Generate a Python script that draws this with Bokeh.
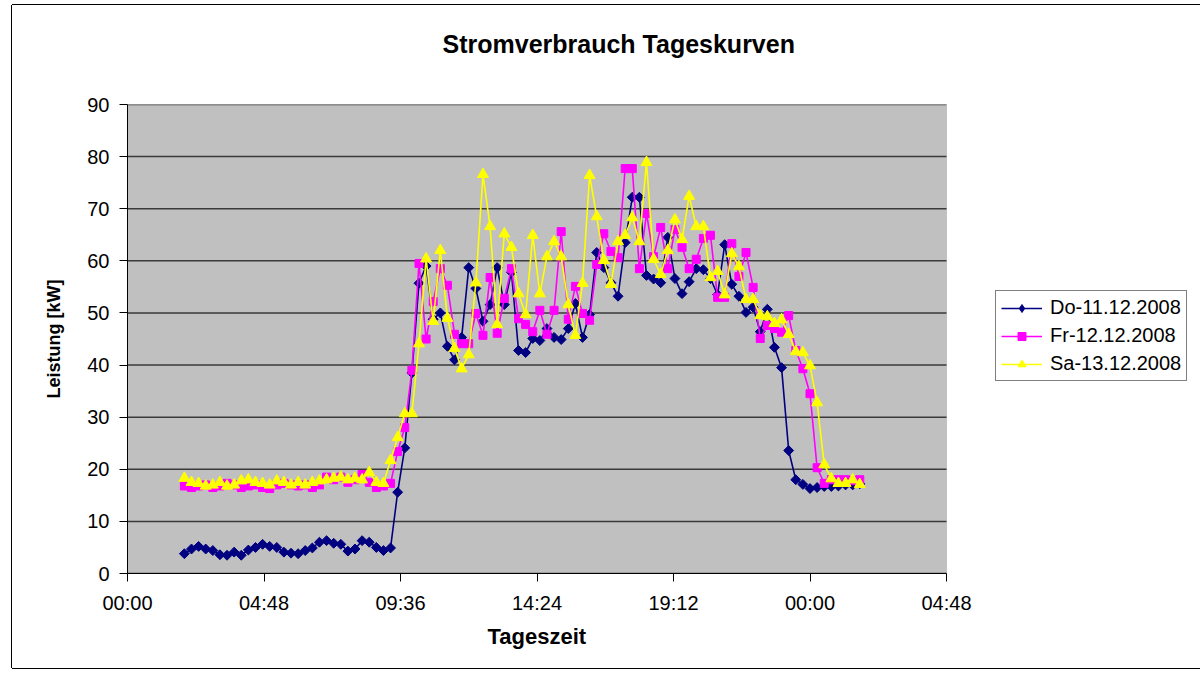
from bokeh.plotting import figure
from bokeh.models import Range1d, FixedTicker, Legend, LegendItem, Title, BoxAnnotation
from bokeh.embed import file_html
from bokeh.resources import INLINE

# sampling grid: quarter-hour readings starting 02:00 (minutes since 00:00)
start_min = 120
step_min = 15

do_vals = [3.8, 4.7, 5.2, 4.7, 4.4, 3.6, 3.5, 4.1, 3.5, 4.5, 5.0, 5.6, 5.2, 5.0, 4.1,
           3.9, 3.8, 4.4, 4.9, 6.0, 6.3, 5.8, 5.6, 4.3, 4.7, 6.3, 6.0, 5.0, 4.4, 4.9,
           15.6, 24.1, 38.5, 55.7, 59.0, 48.8, 50.0, 43.6, 41.0, 45.3, 58.7, 54.7,
           48.4, 51.6, 58.7, 51.6, 57.8, 42.8, 42.4, 45.1, 44.7, 47.0, 45.3, 44.9,
           47.0, 51.8, 45.3, 49.7, 61.6, 58.7, 55.8, 53.2, 63.5, 72.2, 72.2, 57.2, 56.5, 55.8,
           64.5, 56.6, 53.7, 56.0, 58.5, 58.3, 56.6, 53.5, 63.1, 55.5, 53.2, 50.1, 51.1,
           46.4, 50.7, 43.4, 39.5, 23.6, 18.0, 17.1, 16.3, 16.5, 16.7, 16.7, 16.8, 17.0,
           17.0, 17.2]

fr_vals = [16.8, 16.5, 16.8, 17.0, 16.5, 16.8, 17.3, 17.0, 16.5, 16.8, 17.0, 16.5, 16.3,
           17.0, 17.3, 17.0, 16.8, 17.0, 16.5, 17.0, 18.5, 18.0, 18.5, 17.5, 18.0, 19.0,
           17.5, 16.5, 16.8, 17.3,
           23.4, 28.0, 39.0, 59.5, 45.0, 52.2, 58.5, 55.3, 45.9, 44.1, 44.1, 49.9,
           45.7, 56.8, 46.1, 52.8, 58.5, 48.9, 47.8, 46.4, 50.5, 45.9, 50.5, 65.6, 48.8,
           55.1, 49.9, 48.6, 59.3, 65.2, 61.8, 60.6, 77.7, 77.7, 58.5, 69.1, 60.8, 66.4,
           58.5, 66.0, 62.6, 58.5, 60.3, 64.3, 64.9, 53.0, 53.0, 63.3, 57.0, 61.6, 54.9,
           45.1, 47.6, 47.0, 46.3, 49.5, 42.8, 39.3, 34.5, 20.3, 17.3, 18.0, 18.0, 18.0,
           17.8, 18.0]

sa_vals = [18.3, 17.5, 17.3, 16.8, 17.0, 17.5, 16.8, 17.0, 17.8, 18.0, 17.5, 17.3, 17.0,
           17.8, 17.5, 17.0, 17.5, 17.0, 17.5, 17.8, 18.0, 18.3, 18.5, 18.0, 18.3, 18.0,
           19.4, 17.5, 17.3, 21.7,
           26.1, 30.7, 30.7, 44.1, 60.4, 48.4, 62.0, 49.0, 43.2, 39.3, 42.0, 55.8,
           76.6, 66.6, 47.8, 65.2, 62.6, 53.7, 49.7, 64.9, 53.7, 60.8, 63.7, 60.8, 51.6,
           45.7, 55.7, 76.4, 68.5, 60.1, 55.5, 63.7, 64.9, 68.3, 63.7, 78.9, 60.3, 57.4,
           62.0, 67.9, 64.1, 72.4, 66.6, 66.6, 56.8, 58.0, 53.5, 61.4, 58.9, 52.6, 52.6,
           49.5, 49.3, 48.0, 48.7, 45.9, 42.6, 42.4, 39.9, 32.8, 20.9, 18.2, 17.3, 17.3,
           18.0, 17.1]

series_names = ["Do-11.12.2008", "Fr-12.12.2008", "Sa-13.12.2008"]

x_ticks = [0, 288, 576, 864, 1152, 1440, 1728]
x_tick_labels = ["00:00", "04:48", "09:36", "14:24", "19:12", "00:00", "04:48"]
y_ticks = [0, 10, 20, 30, 40, 50, 60, 70, 80, 90]

times = [start_min + step_min * i for i in range(len(do_vals))]

FONT = "Liberation Sans"

# layout (pixels)
FIG_W, FIG_H = 1188, 663
B_LEFT, B_RIGHT, B_TOP, B_BOTTOM = 115, 5, 99, 95
PLOT_W = 819                      # width of the grey plot area
FRAME_W = FIG_W - B_LEFT - B_RIGHT  # frame also holds the legend to the right
x_end = x_ticks[-1] * FRAME_W / PLOT_W

p = figure(width=FIG_W, height=FIG_H, output_backend="svg", toolbar_location=None,
           x_range=Range1d(x_ticks[0], x_end), y_range=Range1d(y_ticks[0], y_ticks[-1]),
           min_border_left=B_LEFT, min_border_right=B_RIGHT,
           min_border_top=B_TOP, min_border_bottom=B_BOTTOM)

p.styles = {"margin-left": "12px", "margin-top": "5px",
            "box-shadow": "-1px 0 0 0 #000, 0 -1px 0 0 #000, 0 1px 0 0 #000"}

p.background_fill_color = "white"
p.border_fill_color = "white"
p.outline_line_color = None

# grey plot area
p.add_layout(BoxAnnotation(left=x_ticks[0], right=x_ticks[-1], bottom=y_ticks[0], top=y_ticks[-1],
                           fill_color="#C0C0C0", fill_alpha=1, line_color="#808080",
                           line_width=1, level="underlay"))

p.xgrid.visible = False
p.ygrid.visible = False
p.segment(x0=[x_ticks[0]] * len(y_ticks), x1=[x_ticks[-1]] * len(y_ticks),
          y0=y_ticks, y1=y_ticks, line_color="#3a3a3a", line_width=1.5)

for ax in (p.xaxis[0], p.yaxis[0]):
    ax.axis_line_color = "black"
    ax.axis_line_width = 1
    ax.major_tick_line_color = "black"
    ax.major_tick_in = 0
    ax.major_tick_out = 8
    ax.minor_tick_line_color = None
    ax.major_label_text_font = FONT
    ax.major_label_text_color = "black"
    ax.axis_label_text_font = FONT
    ax.axis_label_text_font_style = "bold"
    ax.axis_label_text_color = "black"

p.xaxis.ticker = FixedTicker(ticks=x_ticks)
p.xaxis.bounds = (x_ticks[0], x_ticks[-1])
p.xaxis.major_label_overrides = dict(zip(x_ticks, x_tick_labels))
p.xaxis.major_label_text_font_size = "20px"
p.xaxis.major_label_standoff = 10

p.yaxis.ticker = FixedTicker(ticks=y_ticks)
p.yaxis.major_label_text_font_size = "20px"
p.yaxis.major_label_standoff = 10
p.yaxis.axis_label = "Leistung [kW]"
p.yaxis.axis_label_text_font_size = "18px"
p.yaxis.axis_label_standoff = 20

styles = [
    dict(color="#000080", marker="square", size=7, angle=0.7853981634, legend_marker="diamond", legend_size=12),
    dict(color="#FF00FF", marker="square", size=8, angle=0.0, legend_marker=None, legend_size=None),
    dict(color="#FFFF00", marker="triangle", size=11, angle=0.0, legend_marker=None, legend_size=None),
]

items = []
for name, vals, st in zip(series_names, [do_vals, fr_vals, sa_vals], styles):
    ln = p.line(times, vals, line_color=st["color"], line_width=1.6)
    sc = p.scatter(times, vals, marker=st["marker"], size=st["size"], angle=st["angle"],
                   fill_color=st["color"], line_color=st["color"])
    if st["legend_marker"]:
        # legend key only (no visible point in the plot)
        key = p.scatter([float("nan")], [float("nan")], marker=st["legend_marker"],
                        size=st["legend_size"], fill_color=st["color"], line_color=st["color"])
        items.append(LegendItem(label=name, renderers=[ln, key]))
    else:
        items.append(LegendItem(label=name, renderers=[ln, sc]))

legend = Legend(items=items, location=(868, 192))
legend.border_line_color = "black"
legend.border_line_width = 1
legend.background_fill_color = "white"
legend.background_fill_alpha = 1
legend.label_text_font = FONT
legend.label_text_font_size = "20px"
legend.label_text_color = "black"
legend.glyph_width = 41
legend.glyph_height = 20
legend.label_height = 20
legend.label_standoff = 8
legend.spacing = 5
legend.padding = 5
legend.margin = 0
p.add_layout(legend, "center")

# title: spacer nearest the frame, then the real title above it
p.title.text = ""
p.add_layout(Title(text=" ", text_font_size="26px"), "above")
p.add_layout(Title(text="Stromverbrauch Tageskurven", align="left", offset=315,
                   text_font=FONT, text_font_size="25px", text_font_style="bold",
                   text_color="black"), "above")

# x-axis title, centred under the grey plot area
p.add_layout(Title(text="Tageszeit", align="left", offset=360,
                   text_font=FONT, text_font_size="22px", text_font_style="bold",
                   text_color="black"), "below")

open("out.html", "w").write(file_html(p, INLINE))
